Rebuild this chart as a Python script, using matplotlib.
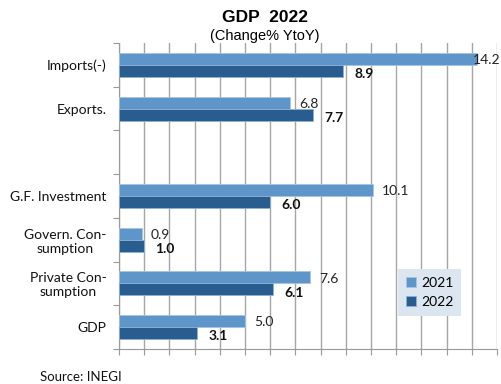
import numpy as np
import matplotlib.pyplot as plt
from matplotlib.ticker import FixedLocator, NullFormatter

plt.rcParams['font.family'] = ['Lato', 'DejaVu Sans']

# Data
categories = ["Imports(-)", "Exports.", "", "G.F. Investment",
              "Govern. Con-\nsumption", "Private Con-\nsumption", "GDP"]
values_2021 = [14.2, 6.8, np.nan, 10.1, 0.9, 7.6, 5.0]
values_2022 = [8.9, 7.7, np.nan, 6.0, 1.0, 6.1, 3.1]
series_names = ["2021", "2022"]

c21 = "#5f96c9"
c22 = "#2a5d8f"

fig = plt.figure(figsize=(5.02, 3.84), dpi=100)
ax = fig.add_axes([0.237, 0.091, 0.753, 0.797])

y = np.arange(len(categories))
h = 0.275
ax.barh(y - h / 2, values_2021, height=h, color=c21, edgecolor="#a9c4e0", linewidth=0.6,
        label=series_names[0], zorder=3)
ax.barh(y + h / 2, values_2022, height=h, color=c22, edgecolor="#8fb0d2", linewidth=0.6,
        label=series_names[1], zorder=3)

xmax = 15
ax.set_xlim(0, xmax)
ax.set_ylim(len(categories) - 0.5, -0.5)

# value labels (the long one is pulled in so it stays inside the figure)
for yi, v in zip(y, values_2021):
    if np.isnan(v):
        continue
    ax.text(min(v + 0.35, 14.05), yi - h / 2 + 0.03, f"{v:.1f}", va="center", ha="left",
            fontsize=10, color="#222222", clip_on=False, zorder=4)
for yi, v in zip(y, values_2022):
    if np.isnan(v):
        continue
    ax.text(v + 0.45, yi + h / 2 + 0.07, f"{v:.1f}", va="center", ha="left",
            fontsize=10, fontweight="bold", color="#111111")

# axes styling
ax.set_xticks(np.arange(0, xmax + 1, 1))
ax.xaxis.set_major_formatter(NullFormatter())
ax.tick_params(axis="x", which="major", length=4, color="#999999", direction="out")
ax.grid(axis="x", color="#a6a6a6", linewidth=1.0, zorder=0)

ax.yaxis.set_major_locator(FixedLocator(np.arange(-0.5, len(categories), 1)))
ax.yaxis.set_major_formatter(NullFormatter())
ax.yaxis.set_minor_locator(FixedLocator(y))
ax.set_yticklabels(categories, minor=True)
ax.tick_params(axis="y", which="major", length=4, color="#999999", direction="out")
ax.tick_params(axis="y", which="minor", length=0, pad=9, labelsize=10, labelcolor="#111111")
for lab in ax.get_yticklabels(minor=True):
    lab.set_multialignment("center")

for s in ["top", "right"]:
    ax.spines[s].set_visible(False)
for s in ["left", "bottom"]:
    ax.spines[s].set_color("#999999")

leg = ax.legend(loc="upper left", bbox_to_anchor=(0.739, 0.262), frameon=True,
                fancybox=False, fontsize=10, handlelength=0.7, handleheight=0.7,
                handletextpad=0.4, borderpad=0.55, labelspacing=0.55, borderaxespad=0)
leg.get_frame().set_facecolor("#dce6f1")
leg.get_frame().set_edgecolor("none")
leg.get_frame().set_alpha(1)

fig.text(0.528, 0.955, "GDP  2022", ha="center", va="center", fontsize=12.5,
         fontweight="bold", family="Liberation Sans")
fig.text(0.528, 0.905, "(Change% YtoY)", ha="center", va="center", fontsize=10.5,
         family="Liberation Sans")
fig.text(0.08, 0.018, "Source: INEGI", ha="left", va="center", fontsize=9.5, color="#111111")

fig.savefig("out.png", dpi=100)
